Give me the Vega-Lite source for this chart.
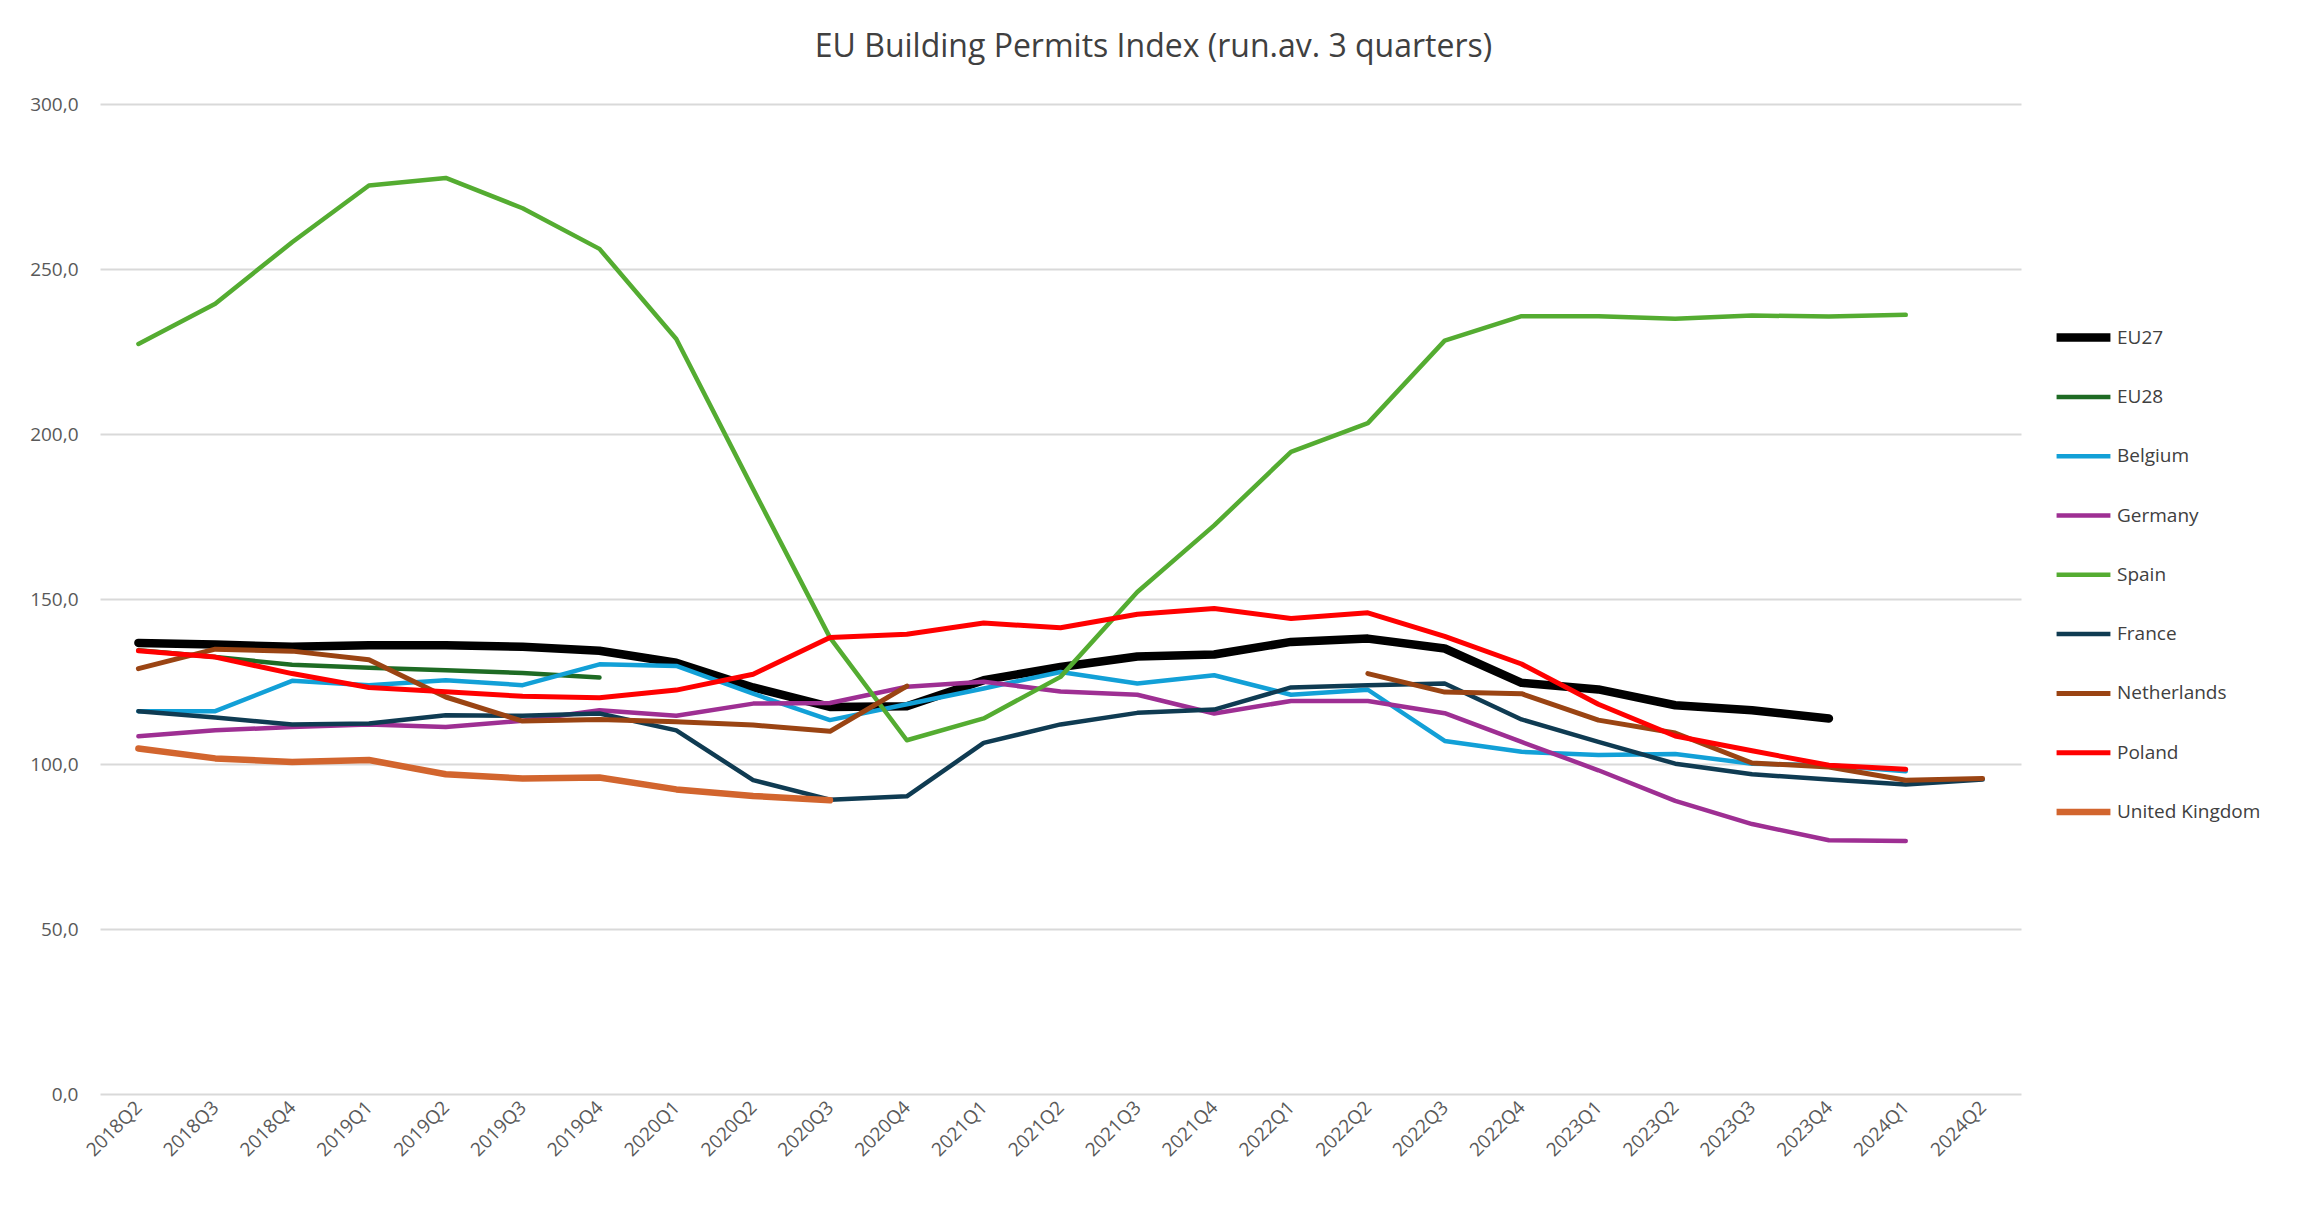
{
  "$schema": "https://vega.github.io/schema/vega-lite/v6.json",
  "width": 1921,
  "height": 990,
  "autosize": {"type": "none"},
  "padding": {"left": 100, "top": 104, "right": 287, "bottom": 112},
  "background": "white",
  "title": {
    "text": "EU Building Permits Index (run.av. 3 quarters)",
    "anchor": "middle",
    "frame": "group",
    "dx": 93,
    "offset": 31,
    "font": "Open Sans",
    "fontSize": 32,
    "fontWeight": "normal",
    "color": "#404040"
  },
  "config": {
    "view": {"stroke": null},
    "font": "Open Sans"
  },
  "datasets": {
    "rows": [
      {"q":"2018Q2","s":"EU27","v":136.7},{"q":"2018Q3","s":"EU27","v":136.2},{"q":"2018Q4","s":"EU27","v":135.5},{"q":"2019Q1","s":"EU27","v":136.0},{"q":"2019Q2","s":"EU27","v":136.0},{"q":"2019Q3","s":"EU27","v":135.5},{"q":"2019Q4","s":"EU27","v":134.3},{"q":"2020Q1","s":"EU27","v":130.7},{"q":"2020Q2","s":"EU27","v":123.2},{"q":"2020Q3","s":"EU27","v":117.3},{"q":"2020Q4","s":"EU27","v":117.5},{"q":"2021Q1","s":"EU27","v":125.4},{"q":"2021Q2","s":"EU27","v":129.4},{"q":"2021Q3","s":"EU27","v":132.6},{"q":"2021Q4","s":"EU27","v":133.2},{"q":"2022Q1","s":"EU27","v":137.0},{"q":"2022Q2","s":"EU27","v":138.0},{"q":"2022Q3","s":"EU27","v":135.0},{"q":"2022Q4","s":"EU27","v":124.6},{"q":"2023Q1","s":"EU27","v":122.6},{"q":"2023Q2","s":"EU27","v":117.8},{"q":"2023Q3","s":"EU27","v":116.3},{"q":"2023Q4","s":"EU27","v":113.8},
      {"q":"2018Q2","s":"EU28","v":134.5},{"q":"2018Q3","s":"EU28","v":132.4},{"q":"2018Q4","s":"EU28","v":130.1},{"q":"2019Q1","s":"EU28","v":129.2},{"q":"2019Q2","s":"EU28","v":128.4},{"q":"2019Q3","s":"EU28","v":127.6},{"q":"2019Q4","s":"EU28","v":126.2},
      {"q":"2018Q2","s":"Belgium","v":116.0},{"q":"2018Q3","s":"Belgium","v":116.0},{"q":"2018Q4","s":"Belgium","v":125.2},{"q":"2019Q1","s":"Belgium","v":123.9},{"q":"2019Q2","s":"Belgium","v":125.4},{"q":"2019Q3","s":"Belgium","v":123.9},{"q":"2019Q4","s":"Belgium","v":130.2},{"q":"2020Q1","s":"Belgium","v":129.7},{"q":"2020Q2","s":"Belgium","v":121.3},{"q":"2020Q3","s":"Belgium","v":113.3},{"q":"2020Q4","s":"Belgium","v":118.1},{"q":"2021Q1","s":"Belgium","v":122.9},{"q":"2021Q2","s":"Belgium","v":127.9},{"q":"2021Q3","s":"Belgium","v":124.4},{"q":"2021Q4","s":"Belgium","v":126.9},{"q":"2022Q1","s":"Belgium","v":121.0},{"q":"2022Q2","s":"Belgium","v":122.5},{"q":"2022Q3","s":"Belgium","v":107.0},{"q":"2022Q4","s":"Belgium","v":103.7},{"q":"2023Q1","s":"Belgium","v":102.7},{"q":"2023Q2","s":"Belgium","v":103.0},{"q":"2023Q3","s":"Belgium","v":100.1},{"q":"2023Q4","s":"Belgium","v":99.6},{"q":"2024Q1","s":"Belgium","v":97.8},
      {"q":"2018Q2","s":"Germany","v":108.4},{"q":"2018Q3","s":"Germany","v":110.2},{"q":"2018Q4","s":"Germany","v":111.2},{"q":"2019Q1","s":"Germany","v":112.0},{"q":"2019Q2","s":"Germany","v":111.2},{"q":"2019Q3","s":"Germany","v":113.1},{"q":"2019Q4","s":"Germany","v":116.3},{"q":"2020Q1","s":"Germany","v":114.6},{"q":"2020Q2","s":"Germany","v":118.3},{"q":"2020Q3","s":"Germany","v":118.5},{"q":"2020Q4","s":"Germany","v":123.4},{"q":"2021Q1","s":"Germany","v":124.9},{"q":"2021Q2","s":"Germany","v":122.0},{"q":"2021Q3","s":"Germany","v":121.0},{"q":"2021Q4","s":"Germany","v":115.3},{"q":"2022Q1","s":"Germany","v":119.1},{"q":"2022Q2","s":"Germany","v":119.1},{"q":"2022Q3","s":"Germany","v":115.4},{"q":"2022Q4","s":"Germany","v":106.7},{"q":"2023Q1","s":"Germany","v":98.1},{"q":"2023Q2","s":"Germany","v":88.8},{"q":"2023Q3","s":"Germany","v":81.8},{"q":"2023Q4","s":"Germany","v":76.9},{"q":"2024Q1","s":"Germany","v":76.7},
      {"q":"2018Q2","s":"Spain","v":227.3},{"q":"2018Q3","s":"Spain","v":239.5},{"q":"2018Q4","s":"Spain","v":258.1},{"q":"2019Q1","s":"Spain","v":275.3},{"q":"2019Q2","s":"Spain","v":277.6},{"q":"2019Q3","s":"Spain","v":268.4},{"q":"2019Q4","s":"Spain","v":256.1},{"q":"2020Q1","s":"Spain","v":228.8},{"q":"2020Q2","s":"Spain","v":183.3},{"q":"2020Q3","s":"Spain","v":138.3},{"q":"2020Q4","s":"Spain","v":107.2},{"q":"2021Q1","s":"Spain","v":113.8},{"q":"2021Q2","s":"Spain","v":126.4},{"q":"2021Q3","s":"Spain","v":152.1},{"q":"2021Q4","s":"Spain","v":172.3},{"q":"2022Q1","s":"Spain","v":194.6},{"q":"2022Q2","s":"Spain","v":203.3},{"q":"2022Q3","s":"Spain","v":228.3},{"q":"2022Q4","s":"Spain","v":235.7},{"q":"2023Q1","s":"Spain","v":235.7},{"q":"2023Q2","s":"Spain","v":234.9},{"q":"2023Q3","s":"Spain","v":235.9},{"q":"2023Q4","s":"Spain","v":235.6},{"q":"2024Q1","s":"Spain","v":236.1},
      {"q":"2018Q2","s":"France","v":116.0},{"q":"2018Q3","s":"France","v":114.1},{"q":"2018Q4","s":"France","v":112.0},{"q":"2019Q1","s":"France","v":112.3},{"q":"2019Q2","s":"France","v":114.8},{"q":"2019Q3","s":"France","v":114.6},{"q":"2019Q4","s":"France","v":115.3},{"q":"2020Q1","s":"France","v":110.2},{"q":"2020Q2","s":"France","v":95.1},{"q":"2020Q3","s":"France","v":89.2},{"q":"2020Q4","s":"France","v":90.2},{"q":"2021Q1","s":"France","v":106.4},{"q":"2021Q2","s":"France","v":112.0},{"q":"2021Q3","s":"France","v":115.5},{"q":"2021Q4","s":"France","v":116.5},{"q":"2022Q1","s":"France","v":123.2},{"q":"2022Q2","s":"France","v":123.9},{"q":"2022Q3","s":"France","v":124.4},{"q":"2022Q4","s":"France","v":113.5},{"q":"2023Q1","s":"France","v":106.7},{"q":"2023Q2","s":"France","v":100.1},{"q":"2023Q3","s":"France","v":96.9},{"q":"2023Q4","s":"France","v":95.3},{"q":"2024Q1","s":"France","v":93.8},{"q":"2024Q2","s":"France","v":95.3},
      {"q":"2018Q2","s":"Netherlands","v":128.9},{"q":"2018Q3","s":"Netherlands","v":134.8},{"q":"2018Q4","s":"Netherlands","v":134.2},{"q":"2019Q1","s":"Netherlands","v":131.6},{"q":"2019Q2","s":"Netherlands","v":120.3},{"q":"2019Q3","s":"Netherlands","v":113.0},{"q":"2019Q4","s":"Netherlands","v":113.5},{"q":"2020Q1","s":"Netherlands","v":112.8},{"q":"2020Q2","s":"Netherlands","v":111.8},{"q":"2020Q3","s":"Netherlands","v":109.9},{"q":"2020Q4","s":"Netherlands","v":123.6},{"q":"2021Q1","s":"Netherlands","v":null},{"q":"2021Q2","s":"Netherlands","v":null},{"q":"2021Q3","s":"Netherlands","v":null},{"q":"2021Q4","s":"Netherlands","v":null},{"q":"2022Q1","s":"Netherlands","v":null},{"q":"2022Q2","s":"Netherlands","v":127.4},{"q":"2022Q3","s":"Netherlands","v":121.8},{"q":"2022Q4","s":"Netherlands","v":121.3},{"q":"2023Q1","s":"Netherlands","v":113.3},{"q":"2023Q2","s":"Netherlands","v":109.4},{"q":"2023Q3","s":"Netherlands","v":100.3},{"q":"2023Q4","s":"Netherlands","v":99.1},{"q":"2024Q1","s":"Netherlands","v":95.1},{"q":"2024Q2","s":"Netherlands","v":95.6},
      {"q":"2018Q2","s":"Poland","v":134.3},{"q":"2018Q3","s":"Poland","v":132.4},{"q":"2018Q4","s":"Poland","v":127.4},{"q":"2019Q1","s":"Poland","v":123.2},{"q":"2019Q2","s":"Poland","v":121.9},{"q":"2019Q3","s":"Poland","v":120.5},{"q":"2019Q4","s":"Poland","v":120.1},{"q":"2020Q1","s":"Poland","v":122.4},{"q":"2020Q2","s":"Poland","v":127.2},{"q":"2020Q3","s":"Poland","v":138.3},{"q":"2020Q4","s":"Poland","v":139.3},{"q":"2021Q1","s":"Poland","v":142.7},{"q":"2021Q2","s":"Poland","v":141.3},{"q":"2021Q3","s":"Poland","v":145.4},{"q":"2021Q4","s":"Poland","v":147.1},{"q":"2022Q1","s":"Poland","v":144.1},{"q":"2022Q2","s":"Poland","v":145.8},{"q":"2022Q3","s":"Poland","v":138.7},{"q":"2022Q4","s":"Poland","v":130.3},{"q":"2023Q1","s":"Poland","v":118.1},{"q":"2023Q2","s":"Poland","v":108.5},{"q":"2023Q3","s":"Poland","v":104.0},{"q":"2023Q4","s":"Poland","v":99.6},{"q":"2024Q1","s":"Poland","v":98.4},
      {"q":"2018Q2","s":"United Kingdom","v":104.7},{"q":"2018Q3","s":"United Kingdom","v":101.7},{"q":"2018Q4","s":"United Kingdom","v":100.6},{"q":"2019Q1","s":"United Kingdom","v":101.2},{"q":"2019Q2","s":"United Kingdom","v":96.9},{"q":"2019Q3","s":"United Kingdom","v":95.6},{"q":"2019Q4","s":"United Kingdom","v":95.9},{"q":"2020Q1","s":"United Kingdom","v":92.3},{"q":"2020Q2","s":"United Kingdom","v":90.3},{"q":"2020Q3","s":"United Kingdom","v":89.0}
    ]
  },
  "data": {"name": "rows"},
  "mark": {"type": "line", "strokeCap": "round", "strokeJoin": "round", "invalid": "break-paths-show-domains"},
  "encoding": {
    "x": {
      "field": "q",
      "type": "ordinal",
      "sort": null,
      "scale": {"type": "point", "padding": 0.5,
        "domain": ["2018Q2","2018Q3","2018Q4","2019Q1","2019Q2","2019Q3","2019Q4","2020Q1","2020Q2","2020Q3","2020Q4","2021Q1","2021Q2","2021Q3","2021Q4","2022Q1","2022Q2","2022Q3","2022Q4","2023Q1","2023Q2","2023Q3","2023Q4","2024Q1","2024Q2"]},
      "axis": {
        "title": null,
        "labelAngle": -45,
        "labelAlign": "right",
        "labelBaseline": "middle",
        "labelFont": "Open Sans",
        "labelFontSize": 19,
        "labelColor": "#595959",
        "labelPadding": 10,
        "ticks": false,
        "domain": false,
        "grid": false
      }
    },
    "y": {
      "field": "v",
      "type": "quantitative",
      "scale": {"domain": [0, 300], "nice": false},
      "axis": {
        "title": null,
        "values": [0, 50, 100, 150, 200, 250, 300],
        "labelExpr": "replace(format(datum.value, '.1f'), '.', ',')",
        "labelFont": "Open Sans",
        "labelFontSize": 19,
        "labelColor": "#595959",
        "labelPadding": 22,
        "ticks": false,
        "domain": false,
        "grid": true,
        "gridColor": "#d9d9d9",
        "gridWidth": 2
      }
    },
    "color": {
      "field": "s",
      "type": "nominal",
      "scale": {
        "domain": ["EU27","EU28","Belgium","Germany","Spain","France","Netherlands","Poland","United Kingdom"],
        "range": ["#000000","#1e6b24","#12a0d7","#9e2f93","#54ac31","#0f3b52","#9a4413","#ff0000","#d2652e"]
      },
      "legend": {
        "title": null,
        "orient": "none",
        "legendX": 1952,
        "legendY": 220.6,
        "symbolType": "stroke",
        "symbolSize": 2900,
        "labelFont": "Open Sans",
        "labelFontSize": 19,
        "labelColor": "#404040",
        "labelOffset": 2,
        "clipHeight": 26,
        "rowPadding": 33.3
      }
    },
    "strokeWidth": {
      "field": "s",
      "type": "nominal",
      "scale": {
        "type": "ordinal",
        "domain": ["EU27","EU28","Belgium","Germany","Spain","France","Netherlands","Poland","United Kingdom"],
        "range": [8.5, 4.5, 4.5, 4.5, 4.5, 4.5, 5, 5, 6.5]
      }
    }
  }
}
